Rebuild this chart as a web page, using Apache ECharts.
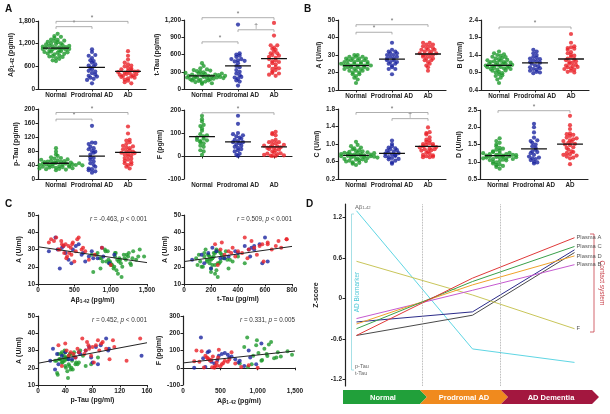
<!DOCTYPE html>
<html><head><meta charset="utf-8">
<script src="https://cdn.jsdelivr.net/npm/echarts@6/dist/echarts.min.js"></script>
<style>html,body{margin:0;padding:0;background:#fff}#c{width:610px;height:414px}</style>
</head><body><div id="c"></div><script>
// ---------- DATA ----------
const groups = ['Normal', 'Prodromal AD', 'AD'];
// Normal
const abetaN = [1120,980,1250,860,1060,1400,940,1180,760,1090,1310,1010,870,1150,1220,990,1460,1050,820,1130,1270,920,1080,1190,740,1020,1350,960,1100,1240,890,1070,1160,1300,1000,800,1210,1040,1380,930,1110,1280,850,1060,1140,970];
const ttauN = [210,260,150,330,190,240,120,280,200,170,310,230,90,250,180,360,220,140,270,200,450,160,240,300,110,210,190,260,230,400,170,220,130,290,250,180,340,200,150,240,270,100,210,230,190,320];
const ptauN = [42,55,30,48,38,62,35,45,28,50,40,70,33,44,52,36,88,41,47,25,58,39,43,32,66,46,37,53,29,41,60,34,49,44,78,38,27,51,42,35,56,40,31,47,45,39];
const fN = [80,130,60,175,45,95,70,150,25,110,65,85,5,135,55,160,75,40,120,68,90,20];
const aN = [25,22,28,19,26,30,23,27,17,24,29,21,25,14,27,23,26,20,28,24,22,30,18,25,27,21,24,29,16,26,23,28,20,25,22,27,24,19,26,29,23,21,25,28,22,24];
const bN = [1.10,1.25,0.95,1.35,1.05,0.80,1.20,1.15,1.45,1.00,0.70,1.30,1.08,1.22,0.90,1.40,1.12,0.60,1.18,1.03,1.28,0.85,1.50,1.10,0.98,1.32,1.06,0.75,1.24,1.14,1.38,0.92,1.02,1.20,0.88,1.16,1.42,1.08,0.82,1.26,1.12,0.96,1.34,1.04,1.18,1.00];
const cN = [0.74,0.68,0.82,0.60,0.77,0.95,0.70,0.72,0.55,0.80,0.66,0.88,0.73,0.62,0.78,1.05,0.69,0.75,0.58,0.84,0.71,0.64,0.90,0.76,0.52,0.79,0.67,0.73,0.86,0.63,0.77,0.70,0.98,0.74,0.57,0.81,0.68,0.72,0.65,0.83,0.76,0.61,0.79,0.71,0.92,0.69];
const dN = [1.15,1.30,0.95,1.20,1.05,1.45,1.10,1.25,0.85,1.18,1.60,1.00,1.22,1.12,1.35,0.90,1.16,1.28,1.08,1.68,1.20,0.98,1.14,1.40,1.02,1.24,0.80,1.18,1.32,1.06,1.12,1.50,0.92,1.22,1.15,1.10,1.38,1.04,1.26,0.88,1.20,1.16,1.55,1.08,1.13,1.19];
// Prodromal AD
const abetaP = [620,350,980,240,760,480,1050,300,560,700,420,880,150,650,380,520,820,270,600,460,740,330,900];
const ttauP = [400,520,150,600,270,480,1120,200,560,330,60,500,240,620,180,450,300,520,130,580,380,210,490];
const ptauP = [62,85,30,100,45,70,152,25,92,55,18,104,40,80,28,75,50,103,35,88,60,22,78];
const fP = [60,95,20,175,40,70,140,5,85,50,25,100,0,65,35,80,10,55,75,45,30,90,60];
const aP = [28,32,22,37,25,30,27,19,33,26,24,31,29,23,28,32,25,30,27,22,29,31,26];
const bP = [1.20,1.45,0.95,1.55,1.05,1.30,0.88,1.15,1.40,1.00,1.25,0.92,1.35,1.10,1.50,0.98,1.22,1.18,1.02,1.32,1.08,1.28,0.90];
const cP = [0.78,0.92,0.65,1.08,0.72,0.85,0.58,0.80,0.95,0.70,0.88,0.62,0.76,1.00,0.68,0.82,0.74,0.55,0.86,0.73,0.90,0.66,0.79];
const dP = [1.30,1.60,1.05,2.10,1.15,1.45,0.95,1.85,1.25,1.10,1.70,1.00,1.40,2.00,1.20,1.55,1.08,1.35,0.98,1.62,1.12,1.28,1.50];
// AD
const abetaAD = [450,320,780,250,520,380,1000,600,180,430,350,700,480,280,560,400,880,330,500,220,650,420,360,540,300,460,150,620,390,470];
const ttauAD = [520,700,300,1150,400,620,250,480,760,350,560,930,280,650,450,380,720,230,590,500,330,680,430,760,270,540,620,360,470,580];
const ptauAD = [75,95,45,150,60,85,35,70,110,52,80,130,40,90,65,55,100,30,82,72,48,112,68,88,42,78,93,58,105,74];
const fAD = [30,60,5,95,20,45,0,35,100,10,50,25,105,2,40,65,15,55,8,35,90,0,42,28,70,12,38,48,3,60];
const aAD = [31,35,27,37,29,33,21,30,36,28,32,24,34,30,37,26,31,33,23,35,29,32,28,36,30,27,34,31,25,33];
const bAD = [1.25,1.60,1.00,2.00,1.10,1.45,0.92,1.30,1.75,1.05,1.40,0.95,1.62,1.15,1.35,1.02,1.55,1.20,0.90,1.48,1.08,1.65,1.12,1.28,0.98,1.38,1.18,1.58,1.06,1.22];
const cAD = [0.92,1.10,0.75,1.38,0.85,1.00,0.70,0.95,1.25,0.80,1.05,0.72,1.22,0.88,0.98,0.78,1.15,0.90,0.70,1.02,0.83,1.27,0.96,0.86,0.74,1.08,0.93,0.71,1.00,0.88];
const dAD = [1.50,1.80,1.20,2.33,1.35,1.60,0.93,1.75,2.06,1.25,1.55,1.15,1.82,1.40,1.70,1.22,1.62,1.30,1.78,1.10,1.58,1.48,1.28,1.95,1.18,1.65,1.42,1.52,1.12,1.68];

// tick labels
const ticksAbeta = [0, 600, 1200, 1800];
const ticksTtau = [0, 300, 600, 900, 1200];
const ticksPtau = [0, 40, 80, 120, 160, 200];
const ticksF = [-100, 0, 100, 200];
const ticksA = [10, 20, 30, 40, 50];
const ticksB = [0.4, 0.9, 1.4, 1.9, 2.4];
const ticksC = [0.2, 0.6, 1.0, 1.4, 1.8];
const ticksD = [0.5, 1.0, 1.5, 2.0, 2.5];
const ticksCorrAbeta = [0, 500, 1000, 1500];
const ticksCorrTtau = [0, 200, 400, 600, 800];
const ticksCorrPtau = [0, 40, 80, 120, 160];
const ticksCorrF = [-100, 0, 100, 200, 300];
const ticksZ = [-1.2, -0.6, 0, 0.6, 1.2];

// significance brackets [fromGroup, toGroup, yValue, mark]
const brAbeta = [[0,1,1650,'*'],[0,2,1790,'*']];
const brTtau = [[0,1,820,'*'],[1,2,1030,'†'],[0,2,1240,'*']];
const brPtau = [[0,1,171,'*'],[0,2,190,'*']];
const brF = [[0,2,188,'*']];
const brA = [[0,1,43,'*'],[0,2,47.3,'*']];
const brB = [[0,2,2.2,'*']];
const brC = [[0,2,1.72,'*'],[1,2,1.58,'†']];
const brD = [[0,2,2.48,'*']];

// regression lines
const fitAbetaA = [[0,31.6],[1500,22.4]];
const fitTtauA = [[0,23],[800,31.8]];
const fitPtauA = [[0,22.6],[160,34.5]];
const fitAbetaF = [[0,28],[1500,97]];
const statAbetaA = ['-0.463', '< 0.001'];
const statTtauA = ['0.509', '< 0.001'];
const statPtauA = ['0.452', '< 0.001'];
const statAbetaF = ['0.331', '= 0.005'];

// Panel D: z-score trajectories
const dStageX = [4.5, 50, 90];
const dStageBounds = [30.2, 60.8];
const zAbeta = [1.3, -0.75, -0.95];
const zF = [0.55, 0.05, -0.45];
const zPlasmaA = [-0.55, 0.3, 0.9];
const zPlasmaC = [-0.45, 0.25, 0.77];
const zPlasmaD = [-0.38, 0.2, 0.63];
const zPlasmaB = [-0.3, 0.12, 0.5];
const zPtau = [-0.35, -0.2, 0.72];
const zTtau = [-0.55, -0.25, 0.68];

// ---------- BUILD ----------
const FONT = '"Liberation Sans", Arial, sans-serif';
const TXT = '#222';
const groupColors = ['#1e9a2c', '#1c26a0', '#ea2228'];
const vars = {
  abeta:[abetaN,abetaP,abetaAD], ttau:[ttauN,ttauP,ttauAD], ptau:[ptauN,ptauP,ptauAD], F:[fN,fP,fAD],
  A:[aN,aP,aAD], B:[bN,bP,bAD], C:[cN,cP,cAD], D:[dN,dP,dAD]
};
const comma = v => String(v).replace(/\B(?=(\d{3})+(?!\d))/g, ',');
const dec1 = v => (+v).toFixed(1);
const plain = v => String(v);
const richName = {
  n:{fontFamily:FONT,fontWeight:'bold',fontSize:7,color:TXT},
  s:{fontFamily:FONT,fontWeight:'bold',fontSize:4.8,color:TXT,verticalAlign:'bottom',padding:[3,0,0,0]}
};
const abetaName = '{n|Aβ}{s|1-42}{n| (pg/ml)}';

const dotSpecs = [
  {grid:[38,21,108,68], ticks:ticksAbeta, fmt:comma, name:abetaName, v:'abeta', br:brAbeta, gap:22},
  {grid:[184,20,108,69], ticks:ticksTtau, fmt:comma, name:'{n|t-Tau (pg/ml)}', v:'ttau', br:brTtau, gap:22},
  {grid:[38,109,108,70], ticks:ticksPtau, fmt:plain, name:'{n|p-Tau (pg/ml)}', v:'ptau', br:brPtau, gap:18},
  {grid:[184,110,108,69], ticks:ticksF, fmt:plain, name:'{n|F (pg/ml)}', v:'F', br:brF, gap:20},
  {grid:[338,20,108,70], ticks:ticksA, fmt:plain, name:'{n|A (U/ml)}', v:'A', br:brA, gap:15},
  {grid:[481,20,108,70], ticks:ticksB, fmt:dec1, name:'{n|B (U/ml)}', v:'B', br:brB, gap:17},
  {grid:[338,109,108,70], ticks:ticksC, fmt:dec1, name:'{n|C (U/ml)}', v:'C', br:brC, gap:17},
  {grid:[480,110,108,69], ticks:ticksD, fmt:dec1, name:'{n|D (U/ml)}', v:'D', br:brD, gap:17}
];
const corrSpecs = [
  {grid:[38,215,109,69], x:'abeta', y:'A', xt:ticksCorrAbeta, yt:ticksA, xfmt:comma, xName:abetaName, yName:'{n|A (U/ml)}', fit:fitAbetaA, stat:statAbetaA},
  {grid:[184,215,108,69], x:'ttau', y:'A', xt:ticksCorrTtau, yt:ticksA, xfmt:plain, xName:'{n|t-Tau (pg/ml)}', yName:'{n|A (U/ml)}', fit:fitTtauA, stat:statTtauA},
  {grid:[38,316,109,69], x:'ptau', y:'A', xt:ticksCorrPtau, yt:ticksA, xfmt:plain, xName:'{n|p-Tau (pg/ml)}', yName:'{n|A (U/ml)}', fit:fitPtauA, stat:statPtauA},
  {grid:[183,316,112,69], x:'abeta', y:'F', xt:ticksCorrAbeta, yt:ticksCorrF, xfmt:comma, xName:abetaName, yName:'{n|F (pg/ml)}', fit:fitAbetaF, stat:statAbetaF}
];

const axLine = {show:true, lineStyle:{color:'#222', width:1.2}};
const lbl = (fmt, cv, extra) => Object.assign({customValues:cv, formatter:fmt, fontFamily:FONT, fontSize:6.5, fontWeight:'bold', color:TXT, margin:3}, extra||{});
const tick = cv => ({show:true, customValues:cv, length:2.5, lineStyle:{color:'#222', width:1}});

const grids = [], xAxes = [], yAxes = [], series = [], graphics = [];
const mean = a => a.reduce((s,v)=>s+v,0)/a.length;

// Prism-style dot layout: values sharing a row are spread sideways
function swarm(values, center, yMin, yMax, hPx, wPx) {
  const rowH = (yMax - yMin) / hPx * 3.6;
  const unit = 3 / wPx * 3.3;
  const bins = new Map();
  values.forEach(v => { const b = Math.round((v - yMin) / rowH); if (!bins.has(b)) bins.set(b, []); bins.get(b).push(v); });
  const out = [];
  bins.forEach(arr => { arr.forEach((v, j) => out.push([center + (j - (arr.length - 1) / 2) * unit, v])); });
  return out;
}

dotSpecs.forEach((p, gi) => {
  const [l,t,w,h] = p.grid;
  const yMin = p.ticks[0], yMax = p.ticks[p.ticks.length-1];
  grids.push({left:l, top:t, width:w, height:h});
  xAxes.push({gridIndex:gi, type:'value', min:0, max:3, axisLine:axLine, splitLine:{show:false},
    axisTick:tick([0.5,1.5,2.5]), axisLabel:lbl(v => groups[Math.floor(v)], [0.5,1.5,2.5], {fontSize:6.3})});
  yAxes.push({gridIndex:gi, type:'value', min:yMin, max:yMax, axisLine:axLine, splitLine:{show:false},
    axisTick:tick(p.ticks), axisLabel:lbl(p.fmt, p.ticks),
    name:p.name, nameLocation:'middle', nameRotate:90, nameGap:p.gap, nameTextStyle:{rich:richName}});
  vars[p.v].forEach((vals, g) => {
    series.push({type:'scatter', xAxisIndex:gi, yAxisIndex:gi, symbolSize:4.2, silent:true,
      itemStyle:{color:groupColors[g]}, data:swarm(vals, g+0.5, yMin, yMax, h, w)});
    const m = mean(vals);
    series.push({type:'line', xAxisIndex:gi, yAxisIndex:gi, symbol:'none', silent:true, z:5,
      lineStyle:{color:'#111', width:1.3}, data:[[g+0.14,m],[g+0.86,m]]});
  });
  const drop = (yMax - yMin) / h * 2.2;
  p.br.forEach(b => {
    const x1 = b[0]+0.5, x2 = b[1]+0.5, y = b[2];
    series.push({type:'line', xAxisIndex:gi, yAxisIndex:gi, symbol:'none', silent:true, clip:false,
      lineStyle:{color:'#999', width:0.8}, data:[[x1,y-drop],[x1,y],[x2,y],[x2,y-drop]]});
    series.push({type:'scatter', xAxisIndex:gi, yAxisIndex:gi, symbolSize:0.1, silent:true, clip:false,
      label:{show:true, position:'top', distance:0, formatter:b[3], fontFamily:FONT, fontSize:6.5, color:'#444'},
      data:[[(x1+x2)/2, y]]});
  });
});

corrSpecs.forEach((p, k) => {
  const gi = grids.length;
  const [l,t,w,h] = p.grid;
  grids.push({left:l, top:t, width:w, height:h});
  xAxes.push({gridIndex:gi, type:'value', min:p.xt[0], max:p.xt[p.xt.length-1], axisLine:axLine, splitLine:{show:false},
    axisTick:tick(p.xt), axisLabel:lbl(p.xfmt, p.xt),
    name:p.xName, nameLocation:'middle', nameGap:12, nameTextStyle:{rich:richName}});
  yAxes.push({gridIndex:gi, type:'value', min:p.yt[0], max:p.yt[p.yt.length-1], axisLine:axLine, splitLine:{show:false},
    axisTick:tick(p.yt), axisLabel:lbl(plain, p.yt),
    name:p.yName, nameLocation:'middle', nameRotate:90, nameGap:p.y === 'F' ? 20 : 15, nameTextStyle:{rich:richName}});
  [0,1,2].forEach(g => {
    const xs = vars[p.x][g], ys = vars[p.y][g];
    const n = Math.min(xs.length, ys.length);
    const pts = [];
    for (let i = 0; i < n; i++) pts.push([xs[i], ys[i]]);
    series.push({type:'scatter', xAxisIndex:gi, yAxisIndex:gi, symbolSize:4, silent:true,
      itemStyle:{color:groupColors[g]}, data:pts});
  });
  series.push({type:'line', xAxisIndex:gi, yAxisIndex:gi, symbol:'none', silent:true, z:6,
    lineStyle:{color:'#222', width:1}, data:p.fit});
  graphics.push({type:'text', x:l+w, y:t+4, style:{text:'{i|r} = '+p.stat[0]+', {i|p} '+p.stat[1],
    align:'right', verticalAlign:'middle', fontFamily:FONT, fontSize:6.3, fill:'#333',
    rich:{i:{fontStyle:'italic', fontFamily:FONT, fontSize:6.3, fill:'#333', color:'#333'}}}});
});

// Panel D
const dIdx = grids.length;
grids.push({left:345, top:204, width:255, height:182});
xAxes.push({gridIndex:dIdx, type:'value', min:0, max:100, show:false});
yAxes.push({gridIndex:dIdx, type:'value', min:-1.3, max:1.4, axisLine:axLine, splitLine:{show:false},
  axisTick:tick(ticksZ), axisLabel:lbl(v => v === 0 ? '0' : dec1(v), ticksZ),
  name:'{n|Z-score}', nameLocation:'middle', nameRotate:90, nameGap:25, nameTextStyle:{rich:richName}});
const dLines = [
  {name:'Aβ1-42', vals:zAbeta, color:'#5fd6e4', end:false},
  {name:'t-Tau', vals:zTtau, color:'#4a4a4a', end:false},
  {name:'p-Tau', vals:zPtau, color:'#2c2c8a', end:false},
  {name:'F', vals:zF, color:'#c9c65a', end:true},
  {name:'Plasma B', vals:zPlasmaB, color:'#c65ad0', end:true},
  {name:'Plasma D', vals:zPlasmaD, color:'#f0a22a', end:true},
  {name:'Plasma C', vals:zPlasmaC, color:'#3aa04a', end:true},
  {name:'Plasma A', vals:zPlasmaA, color:'#e03a3a', end:true}
];
dLines.forEach((d, i) => {
  const s = {type:'line', name:d.name, xAxisIndex:dIdx, yAxisIndex:dIdx, symbol:'none', silent:true,
    lineStyle:{color:d.color, width:1}, data:d.vals.map((v,j)=>[dStageX[j], v]),
    endLabel:{show:d.end, formatter:'{a}', fontFamily:FONT, fontSize:5.8, color:'#555', distance:2}};
  if (i === 0) s.markLine = {symbol:'none', silent:true, label:{show:false},
    lineStyle:{type:'dotted', color:'#9a9a9a', width:0.8}, data:dStageBounds.map(b=>({xAxis:b}))};
  series.push(s);
});

// decorations
const letter = (t,x,y) => ({type:'text', x, y, style:{text:t, fontFamily:FONT, fontWeight:'bold', fontSize:10, fill:'#111'}});
graphics.push(letter('A',5,4), letter('B',304,4), letter('C',5,199), letter('D',306,199));
graphics.push({type:'text', x:355, y:207, style:{text:'{n|Aβ}{s|1-42}', verticalAlign:'middle',
  rich:{n:{fontFamily:FONT,fontSize:5.8,fill:'#666',color:'#666'}, s:{fontFamily:FONT,fontSize:4.2,fill:'#666',color:'#666',verticalAlign:'bottom'}}}});
graphics.push({type:'text', x:355, y:366, style:{text:'p-Tau', fontFamily:FONT, fontSize:5.5, fill:'#666', verticalAlign:'middle'}});
graphics.push({type:'text', x:355, y:373, style:{text:'t-Tau', fontFamily:FONT, fontSize:5.5, fill:'#666', verticalAlign:'middle'}});
graphics.push({type:'polyline', shape:{points:[[354,214],[351.5,214],[351.5,370],[354,370]]}, style:{stroke:'#8fd8e0', lineWidth:0.8, fill:null}});
graphics.push({type:'text', x:357, y:292, rotation:Math.PI/2, style:{text:'AD Biomarker', fontFamily:FONT, fontSize:6.5, fill:'#4cc8d8', align:'center', verticalAlign:'middle'}});
graphics.push({type:'polyline', shape:{points:[[590,234],[594,234],[594,332],[590,332]]}, style:{stroke:'#c8404a', lineWidth:0.8, fill:null}});
graphics.push({type:'text', x:602, y:283, rotation:-Math.PI/2, style:{text:'Contact system', fontFamily:FONT, fontSize:6.5, fill:'#c8404a', align:'center', verticalAlign:'middle'}});
// stage arrows
const arrows = [
  {pts:[[343,390],[420,390],[427,397],[420,404],[343,404]], color:'#21a03a', text:'Normal', cx:383},
  {pts:[[420,390],[501,390],[508,397],[501,404],[420,404],[427,397]], color:'#f08a1e', text:'Prodromal AD', cx:464},
  {pts:[[501,390],[592,390],[599,397],[592,404],[501,404],[508,397]], color:'#a3173f', text:'AD Dementia', cx:551}
];
arrows.forEach(a => {
  graphics.push({type:'polygon', shape:{points:a.pts}, style:{fill:a.color}});
  graphics.push({type:'text', x:a.cx, y:397.5, style:{text:a.text, fontFamily:FONT, fontWeight:'bold', fontSize:7.5, fill:'#fff', align:'center', verticalAlign:'middle'}});
});

const chart = echarts.init(document.getElementById('c'), null, {renderer:'canvas'});
chart.setOption({
  animation:false, backgroundColor:'#fff',
  textStyle:{fontFamily:FONT},
  grid:grids, xAxis:xAxes, yAxis:yAxes, series, graphic:graphics
});
</script></body></html>
